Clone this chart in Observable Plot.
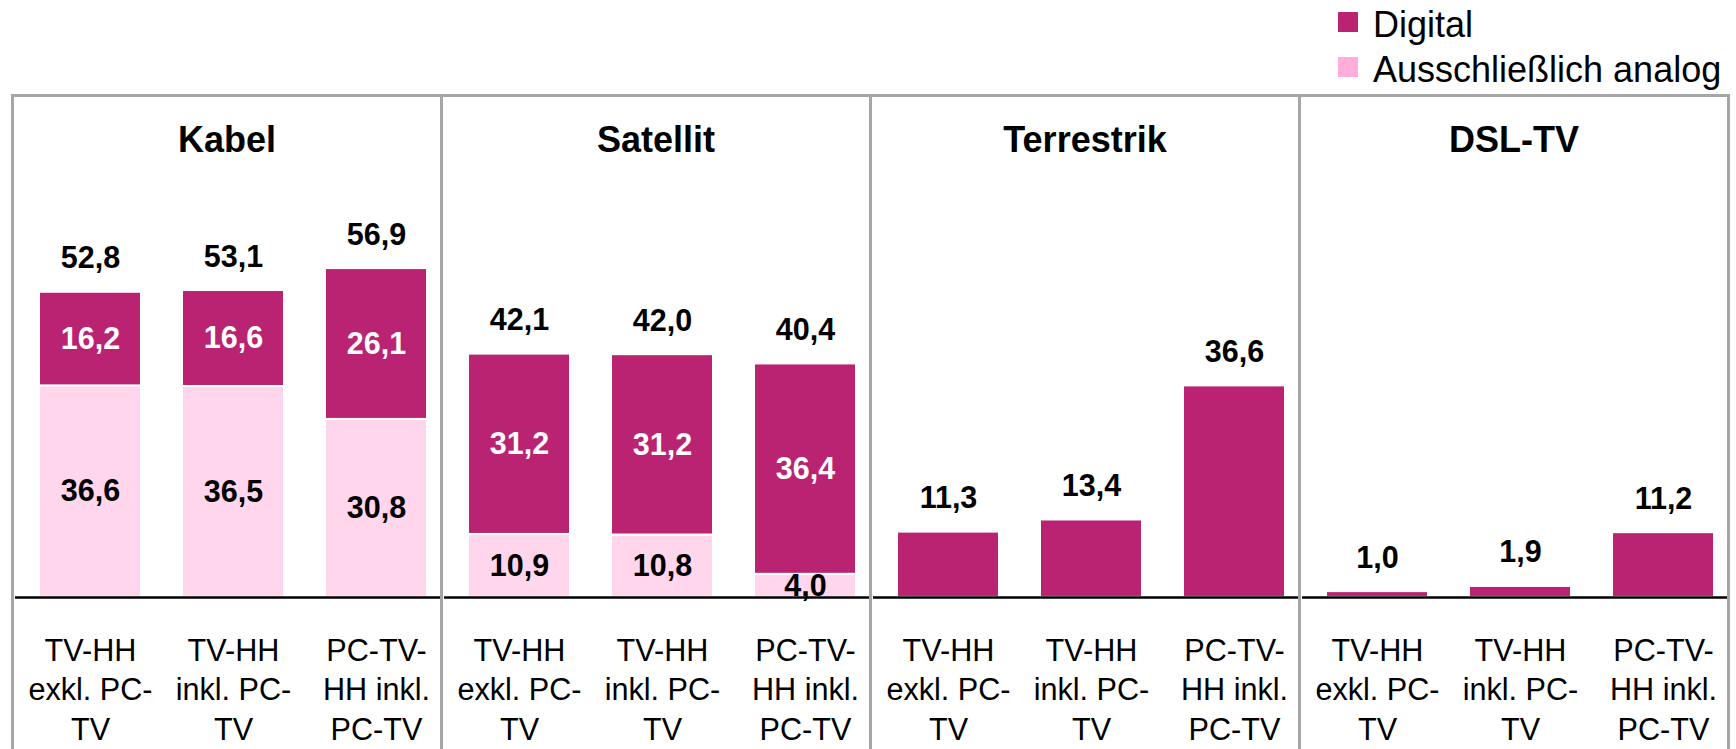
<!DOCTYPE html>
<html>
<head>
<meta charset="utf-8">
<script src="https://cdn.jsdelivr.net/npm/d3@7"></script>
<script src="https://cdn.jsdelivr.net/npm/@observablehq/plot@0.6"></script>
<style>
html, body { margin: 0; padding: 0; background: #fff; overflow: hidden; }
#wrap { position: relative; width: 1736px; height: 749px; font-family: "Liberation Sans", Arial, sans-serif; }
#legend { position: absolute; left: 1338px; top: 2px; font-size: 36px; color: #000; }
.item { position: absolute; left: 0; height: 45px; line-height: 45px; white-space: nowrap; }
.sw { position: absolute; left: 0; top: 10px; width: 20px; height: 20px; }
.lab { position: absolute; left: 35px; top: 0; }
</style>
</head>
<body>
<div id="wrap"><div id="chart"></div><div id="legend"></div></div>
<script>
// ---- data ----
const groups = ["Kabel", "Satellit", "Terrestrik", "DSL-TV"];
const categories = ["TV-HH exkl. PC-TV", "TV-HH inkl. PC-TV", "PC-TV-HH inkl. PC-TV"];
const tickLabels = ["TV-HH\nexkl. PC-\nTV", "TV-HH\ninkl. PC-\nTV", "PC-TV-\nHH inkl.\nPC-TV"];
const seriesNames = ["Ausschließlich analog", "Digital"];
const analog = [
  [36.6, 36.5, 30.8],
  [10.9, 10.8, 4.0],
  [null, null, null],
  [null, null, null]
];
const digital = [
  [16.2, 16.6, 26.1],
  [31.2, 31.2, 36.4],
  [11.3, 13.4, 36.6],
  [1.0, 1.9, 11.2]
];
const totals = [
  [52.8, 53.1, 56.9],
  [42.1, 42.0, 40.4],
  [11.3, 13.4, 36.6],
  [1.0, 1.9, 11.2]
];
const legendOrder = ["Digital", "Ausschließlich analog"];

// ---- styles ----
const barColors = ["#FFD6EC", "#BA2272"];
const legendColors = {"Digital": "#BA2272", "Ausschließlich analog": "#FFAEDC"};
const fmt = d3.formatLocale({decimal: ",", thousands: ".", grouping: [3], currency: ["", " €"]}).format(".1f");

// ---- tables ----
const rows = [];
groups.forEach((g, gi) => {
  const inside = analog[gi].some(v => v != null);
  categories.forEach((c, ci) => {
    if (analog[gi][ci] != null) rows.push({group: g, category: c, series: seriesNames[0], value: analog[gi][ci], inside});
  });
});
groups.forEach((g, gi) => {
  const inside = analog[gi].some(v => v != null);
  categories.forEach((c, ci) => {
    rows.push({group: g, category: c, series: seriesNames[1], value: digital[gi][ci], inside});
  });
});
const totalRows = [];
groups.forEach((g, gi) => categories.forEach((c, ci) => totalRows.push({group: g, category: c, total: totals[gi][ci], label: tickLabels[ci]})));

const bold = {fontWeight: "bold", fontSize: 30.5};

const chart = Plot.plot({
  width: 1736,
  height: 749,
  marginTop: 95,
  marginBottom: -8,
  marginLeft: 12,
  marginRight: 8,
  style: {fontFamily: "'Liberation Sans', Arial, sans-serif", background: "transparent", color: "black"},
  fx: {domain: groups, padding: 0, axis: null},
  x: {domain: categories, paddingInner: 0.287, paddingOuter: 0.1435, align: 0.66, axis: null},
  y: {domain: [-27.7, 86.85], axis: null},
  color: {domain: seriesNames, range: barColors},
  marks: [
    Plot.barY(rows, {fx: "group", x: "category", y: "value", fill: "series", stroke: "white", strokeWidth: 2}),
    Plot.ruleY([0], {stroke: "black", strokeWidth: 2.5, insetLeft: 3, insetRight: 1}),
    Plot.frame({stroke: "#A6A6A6", strokeWidth: 3}),
    Plot.text(rows, Plot.stackY({fx: "group", x: "category", y: "value",
      text: d => d.inside && d.series === "Digital" ? fmt(d.value) : null,
      fill: "white", ...bold})),
    Plot.text(rows, Plot.stackY({fx: "group", x: "category", y: "value",
      text: d => d.inside && d.series !== "Digital" ? fmt(d.value) : null,
      fill: "black", ...bold})),
    Plot.text(totalRows, {fx: "group", x: "category", y: "total", text: d => fmt(d.total),
      dy: -24, lineAnchor: "bottom", fill: "black", ...bold}),
    Plot.text(groups, {fx: d => d, text: d => d, frameAnchor: "top", dy: 31, lineAnchor: "top",
      fontWeight: "bold", fontSize: 36, fill: "black"}),
    Plot.text(totalRows, {fx: "group", x: "category", y: d => 0, text: "label",
      dy: 35, lineAnchor: "top", lineHeight: 1.3, fontSize: 30.6, fill: "black"})
  ]
});
document.getElementById("chart").appendChild(chart);

// ---- legend ----
const legend = document.getElementById("legend");
legendOrder.forEach((name, i) => {
  const item = document.createElement("div");
  item.className = "item";
  item.style.top = (i * 45) + "px";
  const sw = document.createElement("div");
  sw.className = "sw";
  sw.style.background = legendColors[name];
  const lab = document.createElement("span");
  lab.className = "lab";
  lab.textContent = name;
  item.appendChild(sw);
  item.appendChild(lab);
  legend.appendChild(item);
});
</script>
</body>
</html>
